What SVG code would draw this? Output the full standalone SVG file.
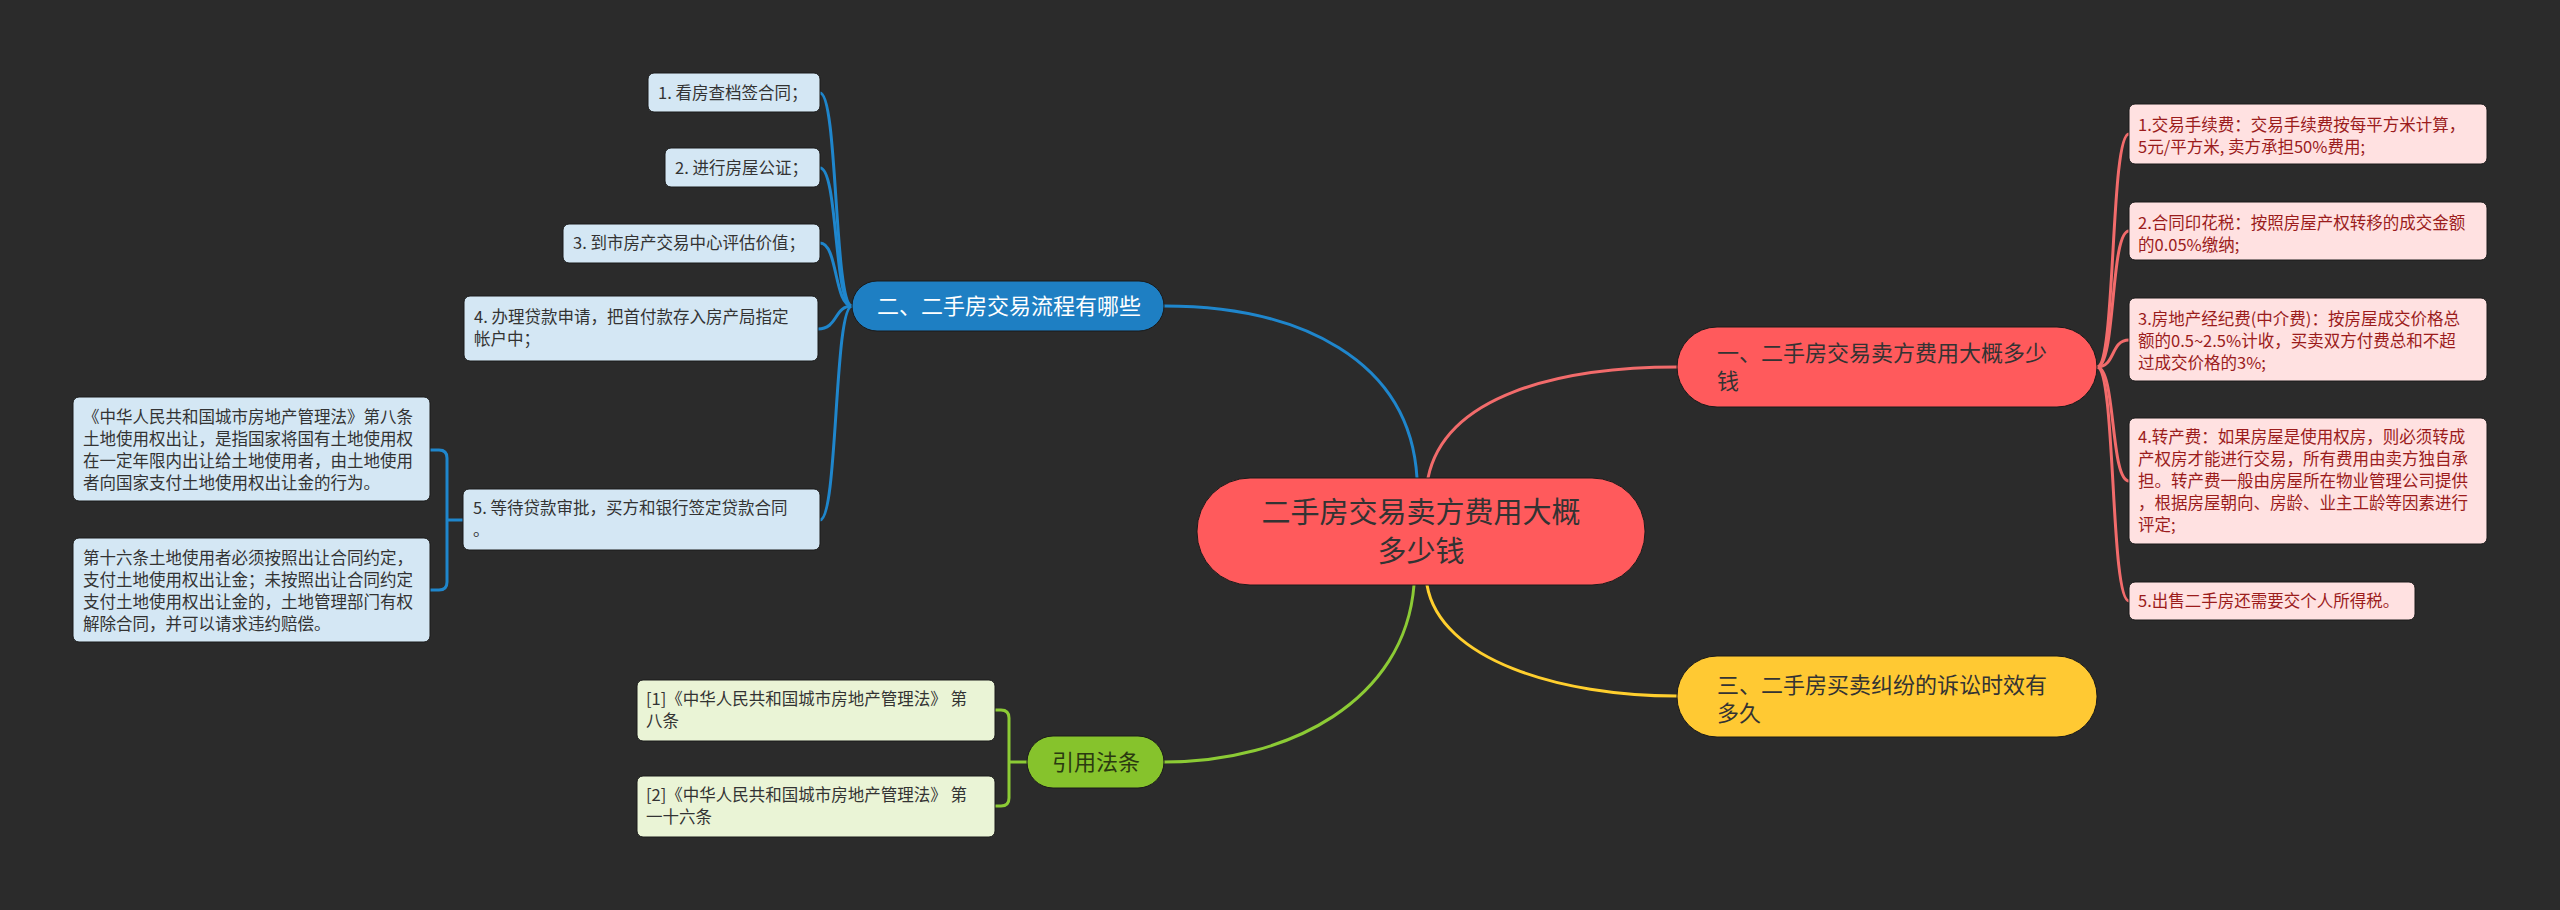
<svg xmlns="http://www.w3.org/2000/svg" width="2560" height="910" viewBox="0 0 2560 910">
<style>
text{font-family:"Noto Sans CJK SC","Noto Sans",sans-serif;}
.sub{font-size:16.5px;fill:#333333;}
.pk{font-size:16.5px;fill:#9b1c1c;}
.main{font-size:22px;fill:#333333;}
.c{fill:none;stroke-width:3;stroke-linecap:round;}
.cb{stroke:#1f86cc;}
.cr{stroke:#f26b6b;}
.cy{stroke:#ffcf2e;}
.cg{stroke:#8ccb35;}
.bbox{fill:#d4e7f4;stroke:#1a1a1a;stroke-width:1;}
.pbox{fill:#ffe1e1;stroke:#1a1a1a;stroke-width:1;}
.gbox{fill:#eaf4d6;stroke:#1a1a1a;stroke-width:1;}
</style>
<rect x="0" y="0" width="2560" height="910" fill="#2b2b2b"/>
<g id="connectors">
<path class="c cb" d="M1417,478 C1410,360 1300,306 1164,306"/>
<path class="c cr" d="M1428,478 C1445,395 1560,367 1677,367"/>
<path class="c cg" d="M1414,585 C1405,700 1290,762 1164,762"/>
<path class="c cy" d="M1427,585 C1440,660 1560,696 1677,696"/>
<path class="c cb" d="M852,306 C834,306 838,93 820,93"/>
<path class="c cb" d="M852,306 C834,306 838,168 820,168"/>
<path class="c cb" d="M852,306 C834,306 838,243 820,243"/>
<path class="c cb" d="M852,306 C834,306 838,329 818,329"/>
<path class="c cb" d="M852,306 C834,306 838,520 820,520"/>
<path class="c cb" d="M463,520 H447 M430,450 H439 Q447,450 447,458 V582 Q447,590 439,590 H430"/>
<path class="c cr" d="M2097,367 C2116,367 2110,134 2129,134"/>
<path class="c cr" d="M2097,367 C2116,367 2110,231 2129,231"/>
<path class="c cr" d="M2097,367 C2116,367 2110,340 2129,340"/>
<path class="c cr" d="M2097,367 C2116,367 2110,481 2129,481"/>
<path class="c cr" d="M2097,367 C2116,367 2110,601 2129,601"/>
<path class="c cg" d="M1027,762 H1009 M995,710 H1001 Q1009,710 1009,718 V798 Q1009,806 1001,806 H995"/>
</g>
<g id="center">
<rect x="1197" y="478" width="448" height="107" rx="53" fill="#ff5a5c" stroke="#1a1a1a" stroke-width="1"/>
<text x="1421" y="523" text-anchor="middle" font-size="29" fill="#333333">二手房交易卖方费用大概</text>
<text x="1421" y="562" text-anchor="middle" font-size="29" fill="#333333">多少钱</text>
</g>
<g id="n-fee">
<rect x="1677" y="327" width="420" height="80" rx="40" fill="#ff5a5c" stroke="#1a1a1a" stroke-width="1"/>
<text class="main" x="1717" y="361">一、二手房交易卖方费用大概多少</text>
<text class="main" x="1717" y="389">钱</text>
</g>
<g id="n-dispute">
<rect x="1677" y="656" width="420" height="81" rx="40" fill="#ffc933" stroke="#1a1a1a" stroke-width="1"/>
<text class="main" x="1717" y="693">三、二手房买卖纠纷的诉讼时效有</text>
<text class="main" x="1717" y="721">多久</text>
</g>
<g id="n-process">
<rect x="852" y="281" width="312" height="50" rx="25" fill="#1e7fc3" stroke="#1a1a1a" stroke-width="1"/>
<text x="877" y="314" font-size="22" fill="#ffffff">二、二手房交易流程有哪些</text>
</g>
<g id="n-law">
<rect x="1027" y="736" width="137" height="52" rx="26" fill="#86c32c" stroke="#1a1a1a" stroke-width="1"/>
<text x="1096" y="770" text-anchor="middle" font-size="22" fill="#2a3a10">引用法条</text>
</g>
<g id="p1">
<rect class="bbox" x="648" y="73" width="172" height="39" rx="6"/>
<text class="sub" x="658" y="99">1. 看房查档签合同；</text>
</g>
<g id="p2">
<rect class="bbox" x="665" y="148" width="155" height="39" rx="6"/>
<text class="sub" x="675" y="174">2. 进行房屋公证；</text>
</g>
<g id="p3">
<rect class="bbox" x="563" y="224" width="257" height="39" rx="6"/>
<text class="sub" x="573" y="249">3. 到市房产交易中心评估价值；</text>
</g>
<g id="p4">
<rect class="bbox" x="464" y="296" width="354" height="65" rx="6"/>
<text class="sub" x="474" y="323">4. 办理贷款申请，把首付款存入房产局指定</text>
<text class="sub" x="474" y="345">帐户中；</text>
</g>
<g id="p5">
<rect class="bbox" x="463" y="489" width="357" height="61" rx="6"/>
<text class="sub" x="473" y="514">5. 等待贷款审批，买方和银行签定贷款合同</text>
<text class="sub" x="473" y="536">。</text>
</g>
<g id="law8">
<rect class="bbox" x="73" y="397" width="357" height="104" rx="6"/>
<text class="sub" x="83" y="423">《中华人民共和国城市房地产管理法》第八条</text>
<text class="sub" x="83" y="445">土地使用权出让，是指国家将国有土地使用权</text>
<text class="sub" x="83" y="467">在一定年限内出让给土地使用者，由土地使用</text>
<text class="sub" x="83" y="489">者向国家支付土地使用权出让金的行为。</text>
</g>
<g id="law16">
<rect class="bbox" x="73" y="538" width="357" height="104" rx="6"/>
<text class="sub" x="83" y="564">第十六条土地使用者必须按照出让合同约定，</text>
<text class="sub" x="83" y="586">支付土地使用权出让金；未按照出让合同约定</text>
<text class="sub" x="83" y="608">支付土地使用权出让金的，土地管理部门有权</text>
<text class="sub" x="83" y="630">解除合同，并可以请求违约赔偿。</text>
</g>
<g id="f1">
<rect class="pbox" x="2129" y="104" width="358" height="60" rx="6"/>
<text class="pk" x="2138" y="131">1.交易手续费：交易手续费按每平方米计算，</text>
<text class="pk" x="2138" y="153">5元/平方米, 卖方承担50%费用;</text>
</g>
<g id="f2">
<rect class="pbox" x="2129" y="202" width="358" height="58" rx="6"/>
<text class="pk" x="2138" y="229">2.合同印花税：按照房屋产权转移的成交金额</text>
<text class="pk" x="2138" y="251">的0.05%缴纳;</text>
</g>
<g id="f3">
<rect class="pbox" x="2129" y="298" width="358" height="83" rx="6"/>
<text class="pk" x="2138" y="325">3.房地产经纪费(中介费)：按房屋成交价格总</text>
<text class="pk" x="2138" y="347">额的0.5~2.5%计收，买卖双方付费总和不超</text>
<text class="pk" x="2138" y="369">过成交价格的3%;</text>
</g>
<g id="f4">
<rect class="pbox" x="2129" y="418" width="358" height="126" rx="6"/>
<text class="pk" x="2138" y="443">4.转产费：如果房屋是使用权房，则必须转成</text>
<text class="pk" x="2138" y="465">产权房才能进行交易，所有费用由卖方独自承</text>
<text class="pk" x="2138" y="487">担。转产费一般由房屋所在物业管理公司提供</text>
<text class="pk" x="2138" y="509">，根据房屋朝向、房龄、业主工龄等因素进行</text>
<text class="pk" x="2138" y="531">评定;</text>
</g>
<g id="f5">
<rect class="pbox" x="2129" y="582" width="286" height="38" rx="6"/>
<text class="pk" x="2138" y="607">5.出售二手房还需要交个人所得税。</text>
</g>
<g id="ref1">
<rect class="gbox" x="637" y="680" width="358" height="61" rx="6"/>
<text class="sub" x="646" y="705">[1]《中华人民共和国城市房地产管理法》 第</text>
<text class="sub" x="646" y="727">八条</text>
</g>
<g id="ref2">
<rect class="gbox" x="637" y="776" width="358" height="61" rx="6"/>
<text class="sub" x="646" y="801">[2]《中华人民共和国城市房地产管理法》 第</text>
<text class="sub" x="646" y="823">一十六条</text>
</g>
</svg>
